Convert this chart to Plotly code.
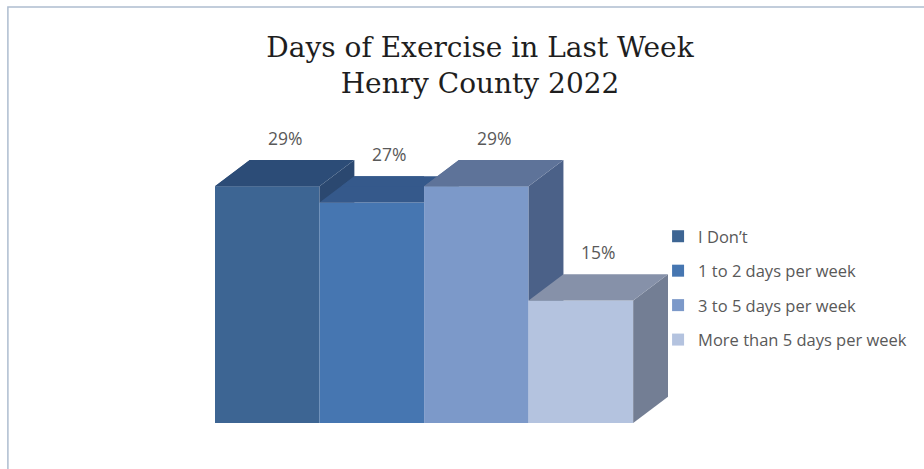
import plotly.graph_objects as go

# ---- data ----
categories = ["I Don’t", "1 to 2 days per week", "3 to 5 days per week", "More than 5 days per week"]
values = [29, 27, 29, 15]
value_labels = ["29%", "27%", "29%", "15%"]

# ---- styles ----
front_colors = ["#3D6593", "#4676B1", "#7C99C9", "#B4C3DF"]
top_colors = ["#2C4C77", "#35598B", "#5E7399", "#8691A9"]
side_colors = ["#2B4870", "#2F5080", "#4B6188", "#737E94"]

DX = 0.333   # 3D depth offset along the category axis (category units)
DY = 3.2     # 3D depth offset along the value axis (value units)

W, H = 924, 469
ML, MR, MT, MB = 215, 247, 129, 46
X_RANGE = [-0.5, 3.9]
Y_RANGE = [0, 36]


def clip(poly, inside, intersect):
    out = []
    for k in range(len(poly)):
        cur, prev = poly[k], poly[k - 1]
        if inside(cur):
            if not inside(prev):
                out.append(intersect(prev, cur))
            out.append(cur)
        elif inside(prev):
            out.append(intersect(prev, cur))
    return out


def clip_x_le(poly, b):
    def inter(p, q):
        t = (b - p[0]) / (q[0] - p[0])
        return (b, p[1] + t * (q[1] - p[1]))
    return clip(poly, lambda p: p[0] <= b + 1e-9, inter)


def clip_y_ge(poly, n):
    def inter(p, q):
        t = (n - p[1]) / (q[1] - p[1])
        return (p[0] + t * (q[0] - p[0]), n)
    return clip(poly, lambda p: p[1] >= n - 1e-9, inter)


def area(poly):
    s = 0.0
    for k in range(len(poly)):
        x1, y1 = poly[k - 1]
        x2, y2 = poly[k]
        s += x1 * y2 - x2 * y1
    return abs(s) / 2


fig = go.Figure()

# front faces: real bars
for i, (cat, v) in enumerate(zip(categories, values)):
    fig.add_trace(go.Bar(
        x=[i], y=[v], width=1, name=cat, legendgroup=cat,
        marker=dict(color=front_colors[i], line=dict(width=0)),
        hoverinfo="skip",
    ))

# 3D top and side faces derived from the values
for i, v in enumerate(values):
    a, b = i - 0.5, i + 0.5
    top = [(a, v), (a + DX, v + DY), (b + DX, v + DY), (b, v)]
    side = [(b, 0), (b, v), (b + DX, v + DY), (b + DX, DY)]
    for face, col in ((side, side_colors[i]), (top, top_colors[i])):
        if i < len(values) - 1:
            n = values[i + 1]
            pieces = [clip_x_le(face, b), clip_y_ge(face, n)]
        else:
            pieces = [face]
        for p in pieces:
            if len(p) < 3 or area(p) < 1e-6:
                continue
            xs = [q[0] for q in p] + [p[0][0]]
            ys = [q[1] for q in p] + [p[0][1]]
            fig.add_trace(go.Scatter(
                x=xs, y=ys, mode="lines", fill="toself", fillcolor=col,
                line=dict(width=0, color=col), showlegend=False, hoverinfo="skip",
            ))

# value labels above the back edge of each bar
for i, (v, lab) in enumerate(zip(values, value_labels)):
    fig.add_annotation(
        x=i + DX / 2, y=v + DY, text=lab, showarrow=False,
        yanchor="bottom", yshift=8,
        font=dict(family="Open Sans", size=17.5, color="#595959"),
    )

pw = W - ML - MR
ph = H - MT - MB

def px_to_paper_x(px):
    return (px - ML) / pw

def px_to_paper_y(py):
    return (H - MB - py) / ph

# outer chart frame
fig.add_shape(
    type="rect", xref="paper", yref="paper",
    x0=px_to_paper_x(7), x1=px_to_paper_x(W + 20),
    y0=px_to_paper_y(H + 20), y1=px_to_paper_y(7),
    line=dict(color="#AEBDD0", width=1.5), fillcolor="rgba(0,0,0,0)", layer="above",
)

fig.update_layout(
    width=W, height=H,
    margin=dict(l=ML, r=MR, t=MT, b=MB),
    paper_bgcolor="white", plot_bgcolor="white",
    barmode="overlay",
    title=dict(
        text="Days of Exercise in Last Week<br>Henry County 2022",
        font=dict(family="DejaVu Serif", size=28, color="#1E1E1E"),
        x=480 / W, xanchor="center", xref="container",
        y=1 - 57 / H, yanchor="top", yref="container",
    ),
    xaxis=dict(range=X_RANGE, visible=False, fixedrange=True),
    yaxis=dict(range=Y_RANGE, visible=False, fixedrange=True),
    showlegend=True,
    legend=dict(
        x=px_to_paper_x(660), xanchor="left",
        y=px_to_paper_y(219), yanchor="top",
        font=dict(family="Open Sans", size=16.5, color="#595959"),
        tracegroupgap=10, traceorder="grouped",
        bgcolor="rgba(0,0,0,0)",
    ),
)

fig.write_html("out.html")
